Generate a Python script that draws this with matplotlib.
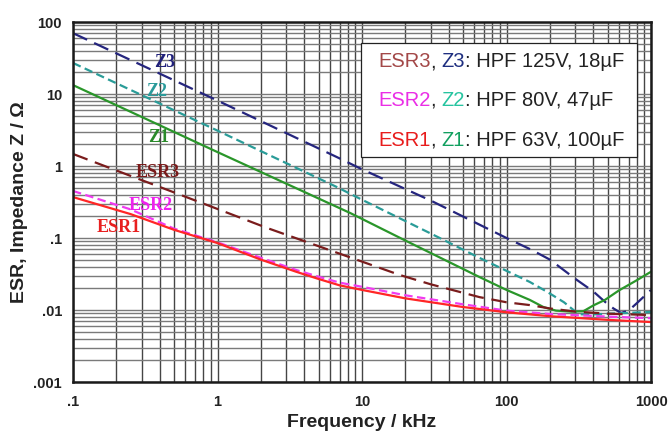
import matplotlib
matplotlib.use('Agg')
import matplotlib.pyplot as plt
from matplotlib.ticker import LogLocator, NullFormatter
from matplotlib.patches import Rectangle

plt.rcParams['font.family'] = ['Liberation Sans', 'DejaVu Sans']

# ---------------- data ----------------
z3_f = [0.1, 1, 6.7, 10, 30, 100, 150, 200, 300, 400, 480, 550, 620, 700, 800, 1000]
z3_v = [70, 8.1, 1.33, 0.9, 0.33, 0.1, 0.068, 0.05, 0.027, 0.018, 0.013, 0.0105, 0.0091, 0.0098, 0.0125, 0.019]

z2_f = [0.1, 1, 6.7, 10, 30, 65, 100, 145, 190, 250, 300, 330, 400, 600, 1000]
z2_v = [27, 3.1, 0.51, 0.34, 0.115, 0.053, 0.035, 0.0245, 0.018, 0.0128, 0.0095, 0.0087, 0.0087, 0.009, 0.0094]

z1_f = [0.1, 1, 8.3, 20, 65, 100, 145, 180, 220, 280, 340, 400, 480, 600, 800, 1000]
z1_v = [13.3, 1.56, 0.222, 0.092, 0.0287, 0.019, 0.0138, 0.011, 0.0098, 0.0095, 0.0096, 0.0116, 0.0138, 0.0187, 0.026, 0.034]

esr3_f = [0.1, 0.2, 0.5, 1, 2.2, 5, 10, 18.3, 30, 65, 100, 145, 200, 300, 500, 1000]
esr3_v = [1.47, 0.865, 0.43, 0.253, 0.138, 0.077, 0.047, 0.0306, 0.0227, 0.0151, 0.0128, 0.0117, 0.0105, 0.0095, 0.0089, 0.0085]

esr2_f = [0.1, 0.25, 0.5, 1, 2, 3.5, 5, 7, 10, 20, 50, 100, 200, 500, 1000]
esr2_v = [0.45, 0.25, 0.135, 0.087, 0.053, 0.036, 0.029, 0.024, 0.021, 0.016, 0.012, 0.0098, 0.0088, 0.0081, 0.0077]

esr1_f = [0.1, 0.25, 0.5, 1, 2, 3.5, 5, 7, 10, 20, 50, 100, 200, 500, 1000]
esr1_v = [0.37, 0.215, 0.13, 0.085, 0.05, 0.034, 0.027, 0.022, 0.019, 0.0145, 0.011, 0.0093, 0.0082, 0.0073, 0.0068]

x_ticks = [0.1, 1, 10, 100, 1000]
x_tick_labels = ['.1', '1', '10', '100', '1000']
y_ticks = [0.001, 0.01, 0.1, 1, 10, 100]
y_tick_labels = ['.001', '.01', '.1', '1', '10', '100']

curve_names = ['Z3', 'Z2', 'Z1', 'ESR3', 'ESR2', 'ESR1']

legend_lines = [
    [('ESR3', '#a34848'), (', ', '#222222'), ('Z3', '#1f2f80'), (': HPF 125V, 18µF', '#222222')],
    [('ESR2', '#ea2ee6'), (', ', '#222222'), ('Z2', '#26c4a0'), (': HPF 80V, 47µF', '#222222')],
    [('ESR1', '#e81c1c'), (', ', '#222222'), ('Z1', '#12a060'), (': HPF 63V, 100µF', '#222222')],
]

# ---------------- figure ----------------
fig = plt.figure(figsize=(6.68, 4.32), dpi=100)
ax = fig.add_axes([73/668, 1 - 382/432, 578/668, 360/432])
ax.set_xscale('log')
ax.set_yscale('log')
ax.set_xlim(0.1, 1000)
ax.set_ylim(0.001, 100)

for axis in (ax.xaxis, ax.yaxis):
    axis.set_minor_locator(LogLocator(base=10, subs=range(2, 10), numticks=30))
    axis.set_minor_formatter(NullFormatter())
ax.set_xticks(x_ticks, x_tick_labels)
ax.set_yticks(y_ticks, y_tick_labels)
ax.grid(which='both', axis='x', color='#454545', lw=1.0)
ax.grid(which='both', axis='y', color='#7a7a7a', lw=1.0)
ax.set_axisbelow(True)
ax.tick_params(which='both', length=0)
ax.tick_params(axis='x', pad=9, labelsize=10.5)
ax.tick_params(axis='y', pad=8, labelsize=10.5)
for lab in ax.get_xticklabels() + ax.get_yticklabels():
    lab.set_fontweight('bold')
    lab.set_color('#222222')
for sp in ax.spines.values():
    sp.set_linewidth(1.8)
    sp.set_color('#1a1a1a')

ax.set_xlabel('Frequency / kHz', fontsize=14, fontweight='bold', labelpad=4, color='#222222')
ax.set_ylabel('ESR, Impedance Z / Ω', fontsize=14, fontweight='bold', labelpad=4, color='#222222')

lw = 1.6
ax.plot(z3_f, z3_v, color='#25257e', lw=lw, dashes=(7, 3.5))
ax.plot(z2_f, z2_v, color='#2a9c98', lw=lw, dashes=(3.8, 2))
ax.plot(z1_f, z1_v, color='#2a962a', lw=lw)
ax.plot(esr3_f, esr3_v, color='#7a1c1c', lw=lw, dashes=(7, 3.5))
ax.plot(esr2_f, esr2_v, color='#f03cf0', lw=lw, dashes=(3.8, 2))
ax.plot(esr1_f, esr1_v, color='#ff2626', lw=lw)

# curve labels
label_pos = {'Z3': (0.434, 27.8), 'Z2': (0.381, 10.7), 'Z1': (0.394, 2.45),
             'ESR3': (0.388, 0.80), 'ESR2': (0.347, 0.287), 'ESR1': (0.208, 0.142)}
label_col = {'Z3': '#20207a', 'Z2': '#2a9a9a', 'Z1': '#2a8a2a',
             'ESR3': '#7a1a1a', 'ESR2': '#ee22ee', 'ESR1': '#e82020'}
for name in curve_names:
    x, y = label_pos[name]
    ax.text(x, y, name, color=label_col[name], fontsize=13, fontweight='bold',
            family=['Liberation Serif', 'DejaVu Serif'], ha='center', va='center', zorder=6)

# legend box
ax.add_patch(Rectangle((0.498, 0.625), 0.478, 0.317, transform=ax.transAxes,
                       facecolor='white', edgecolor='#222222', lw=0.9, zorder=5))
line_y = [0.889, 0.783, 0.672]
for yy, parts in zip(line_y, legend_lines):
    t = None
    for s, c in parts:
        if t is None:
            t = ax.text(0.528, yy, s, color=c, fontsize=14.5, transform=ax.transAxes,
                        va='center', ha='left', zorder=6)
        else:
            t = ax.annotate(s, xy=(1, 0), xycoords=t, va='bottom', ha='left',
                            color=c, fontsize=14.5, zorder=6)

fig.savefig('out.png', dpi=100)
